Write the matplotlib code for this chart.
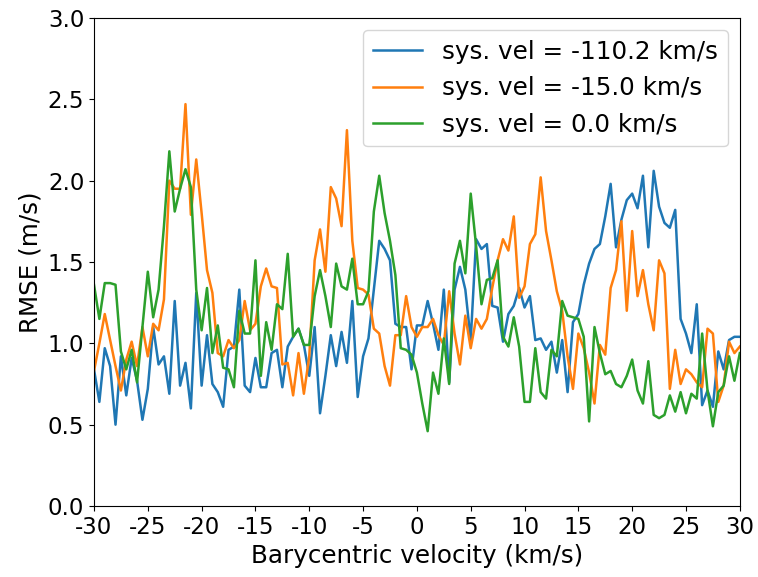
import numpy as np
import matplotlib
matplotlib.use("Agg")
import matplotlib.pyplot as plt

# velocity grid, 0.5 km/s steps
vel = np.arange(-30, 30.01, 0.5)

rmse_110 = [
    0.84, 0.64, 0.97, 0.86, 0.50, 0.92, 0.68, 0.91, 0.77, 0.53,
    0.72, 1.10, 0.87, 0.92, 0.69, 1.26, 0.74, 0.88, 0.60, 1.31,
    0.74, 1.05, 0.75, 0.70, 0.61, 0.96, 0.98, 1.33, 0.74, 0.70,
    0.91, 0.73, 0.73, 0.94, 0.96, 0.73, 0.98, 1.04, 1.09, 0.99,
    0.80, 1.10, 0.57, 0.80, 1.05, 0.86, 1.07, 0.88, 1.26, 0.67,
    0.92, 1.03, 1.33, 1.63, 1.58, 1.51, 1.12, 1.10, 1.10, 0.84,
    1.11, 1.11, 1.26, 1.12, 0.96, 1.33, 0.76, 1.33, 1.47, 1.33,
    1.02, 1.64, 1.58, 1.61, 1.23, 1.22, 1.01, 1.18, 1.23, 1.34,
    1.22, 1.29, 1.02, 1.03, 0.96, 1.01, 0.82, 1.02, 0.70, 1.13,
    1.18, 1.36, 1.49, 1.58, 1.61, 1.78, 1.98, 1.59, 1.76, 1.88,
    1.92, 1.83, 2.03, 1.59, 2.06, 1.84, 1.74, 1.71, 1.82, 1.15,
    1.06, 0.94, 1.24, 0.62, 0.71, 0.61, 0.95, 0.84, 1.02, 1.04, 1.04,
]

rmse_15 = [
    0.83, 1.00, 1.18, 1.02, 0.86, 0.71, 0.90, 1.01, 0.86, 1.10,
    0.92, 1.12, 1.08, 1.27, 2.00, 1.95, 1.95, 2.47, 1.79, 2.13,
    1.80, 1.45, 1.31, 0.94, 0.92, 1.02, 0.97, 1.02, 1.26, 1.08,
    1.12, 1.35, 1.46, 1.35, 1.34, 0.87, 0.88, 0.68, 0.94, 0.69,
    0.92, 1.51, 1.70, 1.44, 1.96, 1.89, 1.72, 2.31, 1.63, 1.34,
    1.33, 1.30, 1.09, 1.06, 0.86, 0.74, 1.05, 1.05, 1.29, 1.10,
    1.04, 1.10, 1.10, 1.15, 1.05, 0.99, 1.32, 1.06, 0.87, 1.17,
    0.97, 1.15, 1.09, 1.15, 1.34, 1.51, 1.64, 1.57, 1.78, 1.28,
    1.35, 1.61, 1.67, 2.02, 1.69, 1.51, 1.32, 1.20, 0.92, 0.72,
    1.06, 0.97, 0.82, 0.63, 0.99, 0.93, 1.34, 1.45, 1.75, 1.20,
    1.69, 1.29, 1.45, 1.24, 1.08, 1.51, 1.43, 0.72, 0.96, 0.75,
    0.84, 0.81, 0.76, 0.73, 1.09, 1.06, 0.64, 0.74, 1.01, 0.94, 0.98,
]

rmse_0 = [
    1.36, 1.15, 1.37, 1.37, 1.36, 0.95, 0.84, 0.96, 0.76, 1.10,
    1.44, 1.16, 1.33, 1.72, 2.18, 1.81, 1.95, 2.07, 1.96, 1.33,
    1.08, 1.34, 0.94, 1.11, 0.85, 0.84, 0.73, 1.20, 1.06, 1.06,
    1.51, 0.80, 1.13, 0.96, 1.24, 1.21, 1.55, 1.04, 1.09, 0.99,
    0.99, 1.29, 1.45, 1.29, 1.10, 1.49, 1.35, 1.33, 1.52, 1.24,
    1.24, 1.32, 1.81, 2.03, 1.80, 1.63, 1.42, 0.97, 0.96, 0.93,
    0.82, 0.63, 0.46, 0.82, 0.69, 1.03, 0.75, 1.49, 1.63, 1.43,
    1.92, 1.60, 1.24, 1.39, 1.40, 1.51, 1.04, 0.98, 1.16, 0.98,
    0.64, 0.64, 0.97, 0.70, 0.66, 0.96, 0.92, 1.26, 1.17, 1.16,
    1.15, 1.04, 0.52, 1.10, 0.94, 0.81, 0.83, 0.75, 0.73, 0.80,
    0.90, 0.71, 0.63, 0.89, 0.56, 0.54, 0.56, 0.68, 0.58, 0.70,
    0.57, 0.69, 0.66, 1.06, 0.71, 0.49, 0.70, 0.74, 0.92, 0.77, 0.94,
]

sys_vels = [-110.2, -15.0, 0.0]
curves = [rmse_110, rmse_15, rmse_0]

fig, ax = plt.subplots(figsize=(7.58, 5.77), dpi=100)
fig.subplots_adjust(left=0.124, right=0.976, top=0.969, bottom=0.123)

for sv, rmse in zip(sys_vels, curves):
    ax.plot(vel, rmse, lw=1.8, label=f"sys. vel = {sv:.1f} km/s")

ax.set_xlim(-30, 30)
ax.set_ylim(0, 3)
ax.set_xticks(np.arange(-30, 31, 5))
ax.set_xticklabels([str(t) for t in range(-30, 31, 5)])
ax.tick_params(labelsize=16.5)
ax.set_xlabel("Barycentric velocity (km/s)", fontsize=17.7)
ax.set_ylabel("RMSE (m/s)", fontsize=17.7)
ax.legend(loc="upper right", fontsize=17.7)

fig.savefig("out.png", dpi=100)
